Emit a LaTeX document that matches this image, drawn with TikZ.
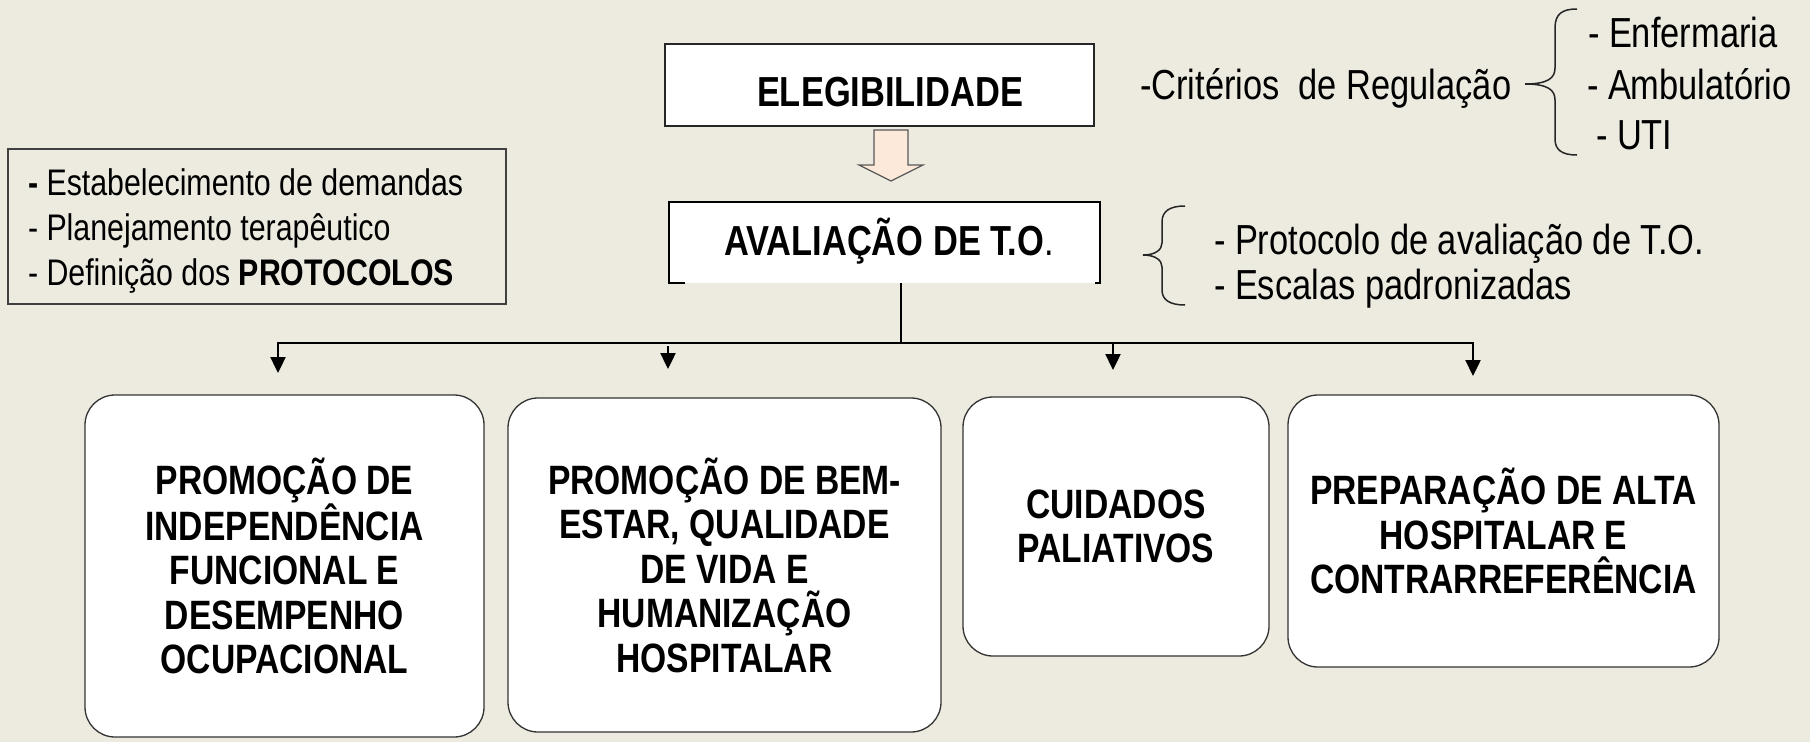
\documentclass[tikz,border=0pt]{standalone}
\usepackage{fontspec}
\setmainfont{Liberation Sans}[FakeStretch=0.82]
\usetikzlibrary{arrows.meta}
\definecolor{bg}{RGB}{237,235,224}
\definecolor{peach}{RGB}{253,233,217}
\begin{document}
\begin{tikzpicture}[x=1pt,y=-1pt,
  every node/.style={inner sep=0pt, outer sep=0pt},
  fs/.style={font=\fontsize{37}{45}\selectfont},
  fm/.style={font=\fontsize{42}{51}\selectfont},
  titlef/.style={font=\fontsize{42}{51}\selectfont\bfseries},
  card/.style={draw=black!80, line width=1.3pt, fill=white, rounded corners=30pt, align=center, font=\fontsize{41}{44.5}\selectfont\bfseries},
  conn/.style={line width=2.4pt, draw=black},
  arr/.style={conn, -{Triangle[length=16pt,width=15pt]}},
  arrboth/.style={conn, {Triangle[length=16pt,width=15pt]}-{Triangle[length=16pt,width=15pt]}},
  brace/.style={line width=1.5pt, draw=black!85},
]
\fill[bg] (0,0) rectangle (1810,742);
\useasboundingbox (0,0) rectangle (1810,742);

% top boxes
\node[draw=black!85, line width=1.5pt, fill=white, minimum width=429pt, minimum height=82pt] (el) at (879.5,85) {};
\node[titlef, anchor=base] (elt) at (890,106) {ELEGIBILIDADE};
\draw[draw=black!65, line width=1.2pt, fill=peach] (874,130) -- (908,130) -- (908,165) -- (923,165) -- (891,181) -- (859,165) -- (874,165) -- cycle;

\node[fill=white, minimum width=431pt, minimum height=81pt] (ava) at (884.5,242.5) {};
\draw[line width=1.5pt] ([xshift=16pt]ava.south west) -- (ava.south west) -- (ava.north west) -- (ava.north east) -- (ava.south east) -- ([xshift=-5pt]ava.south east);
\node[fm, anchor=base west] (avat) at (724,255) {\textbf{AVALIAÇÃO DE T.O}.};

% left box
\node[draw=black!75, line width=1.2pt, minimum width=498pt, minimum height=155pt] (lb) at (257,226.5) {};
\node[fs, anchor=base west] (l1) at (28,195) {\textbf{-} Estabelecimento de demandas};
\node[fs, anchor=base west] (l2) at (28,240) {- Planejamento terapêutico};
\node[fs, anchor=base west] (l3) at (28,285) {- Definição dos \textbf{PROTOCOLOS}};

% right texts
\node[fm, anchor=base west] (crit) at (1140,99) {-Critérios\ \ de Regulação};
\node[fm, anchor=base west] (enf) at (1588,47) {- Enfermaria};
\node[fm, anchor=base west] (amb) at (1587,99) {- Ambulatório};
\node[fm, anchor=base west] (uti) at (1596,149) {- UTI};
\node[fm, anchor=base west] (prot) at (1214,254) {- Protocolo de avaliação de T.O.};
\node[fm, anchor=base west] (esc) at (1214,299) {- Escalas padronizadas};

\draw[brace] (1577,9) .. controls (1562,9) and (1555,14) .. (1555,28) -- (1555,68) .. controls (1555,78) and (1548,84) .. (1525,84) .. controls (1548,84) and (1555,90) .. (1555,100) -- (1555,139) .. controls (1555,150) and (1562,155) .. (1577,155);
\draw[brace] (1185,206) .. controls (1170,206) and (1162,211) .. (1162,222) -- (1162,243) .. controls (1162,250) and (1155,255) .. (1143,255) .. controls (1155,255) and (1162,260) .. (1162,267) -- (1162,290) .. controls (1162,300) and (1170,305) .. (1185,305);

% cards
\node[card, minimum width=399pt, minimum height=342pt] (b1) at (284.5,566) {PROMOÇÃO DE\\INDEPENDÊNCIA\\FUNCIONAL E\\DESEMPENHO\\OCUPACIONAL};
\node[card, minimum width=433pt, minimum height=334pt] (b2) at (724.5,565) {PROMOÇÃO DE BEM-\\ESTAR, QUALIDADE\\DE VIDA E\\HUMANIZAÇÃO\\HOSPITALAR};
\node[card, minimum width=306pt, minimum height=259pt] (b3) at (1116,526.5) {CUIDADOS\\PALIATIVOS};
\node[card, minimum width=431pt, minimum height=272pt] (b4) at (1503.5,531) {PREPARAÇÃO DE ALTA\\HOSPITALAR E\\CONTRARREFERÊNCIA};

% connectors
\coordinate (bus) at (901,343);
\coordinate (t1) at (278,373);
\coordinate (t2) at (668,369);
\coordinate (s2) at (668,346);
\coordinate (t3) at (1113,370);
\coordinate (t4) at (1473,376);
\draw[conn, line width=1.8pt] (ava.south -| bus) -- (bus);
\draw[arrboth] (t1) |- (bus) -| (t4);
\draw[arr] (s2) -- (t2);
\draw[arr] (t3 |- bus) -- (t3);
\end{tikzpicture}
\end{document}
